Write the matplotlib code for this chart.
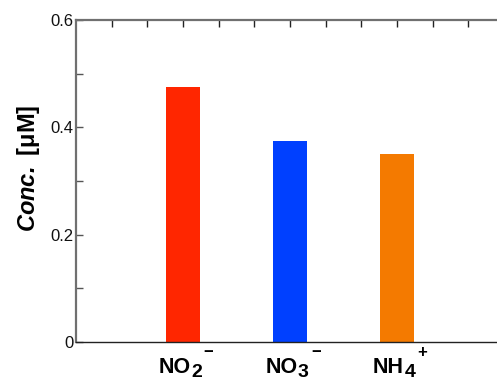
import matplotlib
matplotlib.use("Agg")
import matplotlib.pyplot as plt
from matplotlib.ticker import MultipleLocator, FixedLocator
import numpy as np

plt.rcParams["font.family"] = ["Liberation Sans", "DejaVu Sans"]
plt.rcParams["mathtext.fontset"] = "custom"
plt.rcParams["mathtext.rm"] = "Liberation Sans"
plt.rcParams["mathtext.bf"] = "Liberation Sans:bold"
plt.rcParams["mathtext.bfit"] = "Liberation Sans:italic:bold"

# Data
species_base = ["NO", "NO", "NH"]
species_sub = ["2", "3", "4"]
species_charge = ["\u2212", "\u2212", "+"]
concentration = [0.475, 0.375, 0.350]
bar_colors = ["#ff2600", "#0040ff", "#f47a00"]
yticks = [0, 0.2, 0.4, 0.6]
ytick_labels = ["0", "0.2", "0.4", "0.6"]

DPI = 100
fig = plt.figure(figsize=(4.97, 3.80), dpi=DPI)
ax = fig.add_axes([76 / 497, 38 / 380, 428 / 497, 322 / 380])

x = np.arange(1, len(concentration) + 1)
ax.bar(x, concentration, width=0.31, color=bar_colors, zorder=2)

ax.set_xlim(0, 4)
ax.set_ylim(0, 0.6)

# x axis: category positions, ticks only along the top edge
ax.set_xticks(x)
ax.set_xticklabels([])
ax.xaxis.set_minor_locator(FixedLocator([i / 3 for i in range(1, 12) if i % 3]))
ax.tick_params(axis="x", which="both", bottom=False, top=True, direction="in",
               length=5, width=1, color="#222222")

ax.set_yticks(yticks)
ax.set_yticklabels(ytick_labels)
ax.yaxis.set_minor_locator(MultipleLocator(0.1))
ax.tick_params(axis="y", which="both", left=True, right=False, direction="in",
               length=5, width=1, color="#555555", labelsize=12, pad=2,
               labelcolor="#111111")

for side in ("left", "top"):
    ax.spines[side].set_color("#707070")
    ax.spines[side].set_linewidth(1.6)
ax.spines["bottom"].set_color("#222222")
ax.spines["bottom"].set_linewidth(1.0)
ax.spines["right"].set_visible(False)

# Chemical formula labels: full-size subscript, small raised charge
xtrans = ax.get_xaxis_transform()
label_groups = []
for xi, base, sub, chg in zip(x, species_base, species_sub, species_charge):
    t0 = ax.annotate(base, xy=(xi, 0), xycoords=xtrans, xytext=(0, -22.3),
                     textcoords="offset points", ha="left", va="baseline",
                     fontsize=15.5, fontweight="bold", annotation_clip=False)
    t1 = ax.annotate(sub, xy=(1, 0), xycoords=(t0, xtrans), xytext=(0.3, -25.2),
                     textcoords="offset points", ha="left", va="baseline",
                     fontsize=14, fontweight="bold", annotation_clip=False)
    t2 = ax.annotate(chg, xy=(1, 0), xycoords=(t1, xtrans), xytext=(1.5, -10.5),
                     textcoords="offset points", ha="left", va="baseline",
                     fontsize=12, fontweight="bold", annotation_clip=False)
    label_groups.append((xi, t0, t1, t2))

fig.canvas.draw()
renderer = fig.canvas.get_renderer()
for xi, t0, t1, t2 in label_groups:
    x_left = t0.get_window_extent(renderer).x0
    x_right = t2.get_window_extent(renderer).x1
    centre = ax.transData.transform((xi, 0))[0] + 3 * DPI / 100
    shift_pts = (centre - (x_left + x_right) / 2) * 72 / DPI
    dx, dy = t0.xyann
    t0.xyann = (dx + shift_pts, dy)

fig.text(29 / 497, 1 - 168.5 / 380, r"$\mathbfit{Conc.}$ [μM]", rotation=90,
         ha="center", va="center", fontsize=17, fontweight="bold")

fig.savefig("out.png", dpi=DPI)
